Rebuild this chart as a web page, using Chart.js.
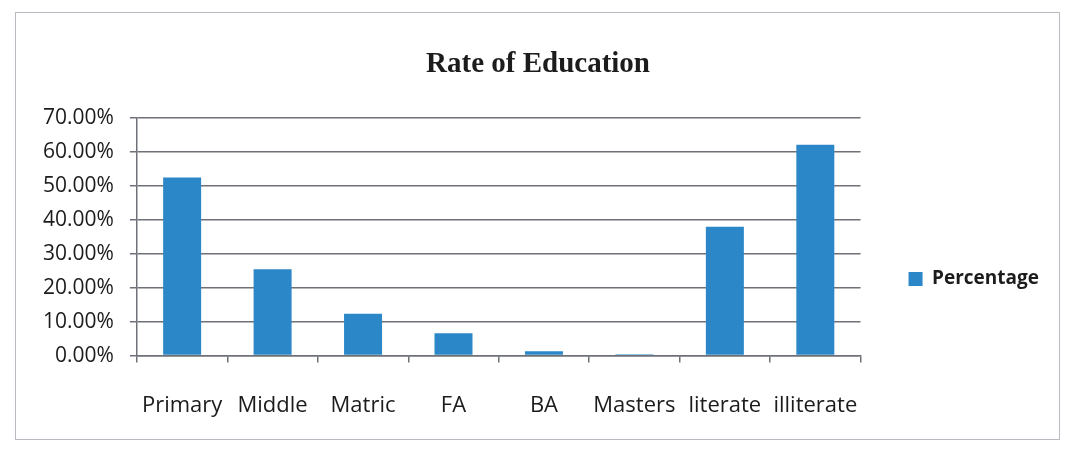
<!DOCTYPE html>
<html>
<head>
<meta charset="utf-8">
<script src="https://cdn.jsdelivr.net/npm/chart.js@4"></script>
<style>
  html, body { margin: 0; padding: 0; background: #fff; }
  #page { position: relative; width: 1073px; height: 450px; background: #fff; }
  #frame { position: absolute; left: 15px; top: 12px; width: 1045px; height: 428px; border: 1px solid #b8bcc2; box-sizing: border-box; }
</style>
</head>
<body>
<div id="page">
  <div id="frame"><canvas id="myChart" width="1043" height="426"></canvas></div>
</div>
<script>
// values, in percent
const categories = ['Primary', 'Middle', 'Matric', 'FA', 'BA', 'Masters', 'literate', 'illiterate'];
const percentage = [52.4, 25.4, 12.3, 6.6, 1.3, 0.4, 37.9, 62.1];
const yTicks = [0, 10, 20, 30, 40, 50, 60, 70];

const barColor = '#2b87c8';
const lineColor = '#6e7177';
const textColor = '#1c1c1c';

// the legend sits a bit lower than the middle of the plot in the original
const legendShift = {
  id: 'legendShift',
  afterLayout(chart) {
    chart.legend.top += 44;
    chart.legend.bottom += 44;
  },
};

const ctx = document.getElementById('myChart');

new Chart(ctx, {
  type: 'bar',
  data: {
    labels: categories,
    datasets: [
      {
        label: 'Percentage',
        data: percentage,
        backgroundColor: barColor,
        categoryPercentage: 1,
        barPercentage: 0.42,
      },
    ],
  },
  options: {
    responsive: false,
    animation: false,
    layout: {
      padding: { left: 11, right: 10, top: 8, bottom: -10 },
    },
    scales: {
      x: {
        grid: {
          display: true,
          drawOnChartArea: false,
          drawTicks: true,
          tickLength: 7,
          color: lineColor,
          lineWidth: 1.5,
        },
        border: { color: lineColor, width: 1.5 },
        ticks: {
          color: textColor,
          font: { family: 'Open Sans', size: 22 },
          padding: 30,
          maxRotation: 0,
          autoSkip: false,
        },
      },
      y: {
        min: 0,
        max: 70,
        afterBuildTicks: (axis) => {
          axis.ticks = yTicks.map((v) => ({ value: v }));
        },
        grid: {
          color: lineColor,
          lineWidth: 1.5,
          tickLength: 7,
        },
        border: { color: lineColor, width: 1.5 },
        ticks: {
          color: textColor,
          font: { family: 'Open Sans', size: 21 },
          padding: 16,
          callback: (v) => v.toFixed(2) + '%',
        },
      },
    },
    plugins: {
      title: {
        display: true,
        text: 'Rate of Education',
        color: textColor,
        font: { family: 'Liberation Serif', size: 29, weight: 'bold' },
        padding: { top: 26, bottom: 36 },
      },
      legend: {
        position: 'right',
        labels: {
          color: textColor,
          font: { family: 'Open Sans', size: 19, weight: 'bold' },
          boxWidth: 14,
          boxHeight: 14,
          padding: 48,
        },
      },
      tooltip: { enabled: false },
    },
  },
  plugins: [legendShift],
});
</script>
</body>
</html>
